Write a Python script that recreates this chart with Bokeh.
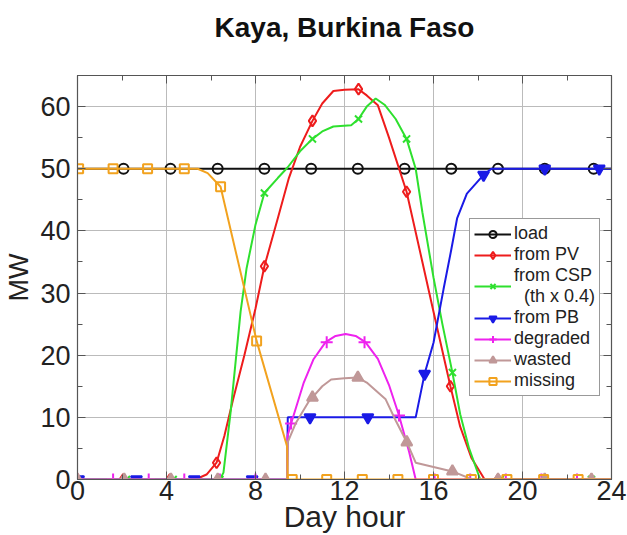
from bokeh.plotting import figure
from bokeh.models import Range1d, FixedTicker, LinearAxis, Legend, LegendItem
from bokeh.embed import file_html
from bokeh.resources import INLINE

# ---------------- data ----------------
title_text = "Kaya, Burkina Faso"
x_label = "Day hour"
y_label = "MW"
x_ticks = [0, 4, 8, 12, 16, 20, 24]
x_minor = [2, 6, 10, 14, 18, 22]
y_ticks = [0, 10, 20, 30, 40, 50, 60]
y_minor = [5, 15, 25, 35, 45, 55, 65]

load_h = [0, 24]
load_v = [50, 50]
load_mh = [2.07, 4.18, 6.3, 8.4, 10.5, 12.6, 14.7, 16.8, 18.9, 21.0, 23.2]
load_mv = [50, 50, 50, 50, 50, 50, 50, 50, 50, 50, 50]

pv_h = [0, 5.3, 5.8, 6.25, 6.6, 7.0, 7.5, 8.0, 8.4, 9.0, 9.5, 10.0, 10.56, 11.0,
        11.5, 12.0, 12.63, 13.0, 13.5, 14.0, 14.79, 15.5, 16.0, 16.76, 17.2,
        17.7, 18.3, 24]
pv_v = [0, 0, 0.8, 2.7, 7, 13, 20, 27.5, 34.3, 42, 48.5, 53.5, 57.7, 60.5,
        62.5, 62.7, 62.8, 61.8, 60.2, 55, 46.3, 35, 27, 15, 8.5,
        3.5, 0, 0]
pv_mh = [0.0, 2.05, 4.15, 6.25, 8.4, 10.56, 12.63, 14.79, 16.76, 18.9, 21.0, 23.1]
pv_mv = [0, 0, 0, 2.7, 34.3, 57.7, 62.8, 46.3, 15, 0, 0, 0]

csp_h = [0, 6.4, 6.56, 6.88, 7.33, 7.6, 8.0, 8.4, 9.0, 9.44, 10.0, 10.56, 11.0,
         11.5, 12.3, 12.63, 13.0, 13.4, 13.8, 14.3, 14.79, 15.2, 15.5, 16.0,
         16.4, 16.85, 17.2, 17.6, 18.1, 24]
csp_v = [0, 0, 1.1, 10.8, 27, 34, 41, 46.1, 48.5, 50.2, 52.8, 54.8, 56,
         56.8, 57, 58, 60, 61.3, 60.3, 58.0, 54.8, 50, 43, 32.5,
         25, 17.2, 10.5, 5, 0, 0]
csp_mh = [0.1, 2.2, 4.3, 6.4, 8.4, 10.56, 12.63, 14.79, 16.85, 19.0, 21.0, 23.1]
csp_mv = [0, 0, 0, 0, 46.1, 54.8, 58, 54.8, 17.2, 0, 0, 0]

pb_h = [0, 9.42, 9.45, 15.2, 15.6, 16.0, 16.45, 16.8, 17.06, 17.5, 18.25, 18.6, 24]
pb_v = [0, 0, 10, 10, 17, 22, 30.6, 37, 42, 46, 49, 50, 50]
pb_mh = [0.05, 2.65, 5.25, 7.85, 10.45, 13.05, 15.6, 18.25, 21.0, 23.45]
pb_mv = [0, 0, 0, 0, 10, 10, 17, 49, 50, 50]

deg_h = [0, 9.42, 9.44, 9.6, 10.17, 10.6, 11.15, 11.6, 12.05, 12.5, 12.94, 13.5,
         14.0, 14.45, 14.9, 15.2, 24]
deg_v = [0, 0, 7, 9, 15.6, 19.3, 22.1, 23.1, 23.4, 23.1, 22.1, 19.4,
         15.2, 10.3, 4.5, 0, 0]
deg_mh = [0, 1.6, 3.2, 4.8, 6.4, 8.0, 9.6, 11.2, 12.9, 14.45, 16.05, 17.65,
          19.25, 20.85, 22.45]
deg_mv = [0, 0, 0, 0, 0, 0, 9, 22.1, 22.1, 10.3, 0, 0, 0, 0, 0]

was_h = [0, 9.42, 9.45, 9.8, 10.4, 10.56, 11.0, 11.4, 12.0, 12.6, 13.0, 13.85,
         14.3, 14.8, 15.2, 16.85, 17.75, 24]
was_v = [0, 0, 6, 9, 12.6, 13.2, 15, 16.1, 16.3, 16.4, 15.6, 12.9,
         9.5, 6, 2.7, 1.3, 0, 0]
was_mh = [0.0, 2.1, 4.2, 6.3, 8.45, 10.56, 12.6, 14.8, 16.85, 18.9, 21.0, 23.1]
was_mv = [0, 0, 0, 0, 0, 13.2, 16.4, 6, 1.3, 0, 0, 0]

mis_h = [0, 5.4, 5.85, 6.43, 8.05, 9.42, 9.45, 24]
mis_v = [50, 50, 49.3, 47.1, 22.3, 5.3, 0, 0]
mis_mh = [0.05, 1.6, 3.15, 4.8, 6.43, 8.05, 9.65, 11.2, 12.8, 14.4, 16.0, 17.7,
          19.3, 20.95, 22.5]
mis_mv = [50, 50, 50, 50, 47.1, 22.3, 0, 0, 0, 0, 0, 0, 0, 0, 0]

labels = ["load", "from PV", "from CSP\n\u00a0\u00a0(th x 0.4)", "from PB",
          "degraded", "wasted", "missing"]

# ---------------- styling ----------------
FONT = "Liberation Sans"
series = [
    (load_h, load_v, load_mh, load_mv, "#111111", "circle", 10, False),
    (pv_h, pv_v, pv_mh, pv_mv, "#ee1c1c", "diamond", 11, False),
    (csp_h, csp_v, csp_mh, csp_mv, "#2ee02e", "x", 10, False),
    (pb_h, pb_v, pb_mh, pb_mv, "#1a1ae6", "inverted_triangle", 11, True),
    (deg_h, deg_v, deg_mh, deg_mv, "#ee22ee", "cross", 12, False),
    (was_h, was_v, was_mh, was_mv, "#c09898", "triangle", 11, True),
    (mis_h, mis_v, mis_mh, mis_mv, "#f2a21e", "square", 9, False),
]

p = figure(width=627, height=535, output_backend="svg", toolbar_location=None,
           x_range=Range1d(0, 24), y_range=Range1d(0, 65),
           min_border_left=77, min_border_right=16, min_border_top=75,
           min_border_bottom=55)
p.background_fill_color = "white"
p.border_fill_color = "white"
p.outline_line_color = "#555555"
p.outline_line_width = 1.2

# trailing newline keeps the title well above the frame, as in the reference
p.title.text = title_text + "\n"
p.title.align = "center"
p.title.text_font = FONT
p.title.text_font_size = "28px"
p.title.text_font_style = "bold"
p.title.text_color = "#111111"
p.title.standoff = 4

for ax in [p.xaxis[0], p.yaxis[0]]:
    ax.axis_line_color = "#555555"
    ax.major_tick_in = 8
    ax.major_tick_out = 0
    ax.minor_tick_in = 5
    ax.minor_tick_out = 0
    ax.major_tick_line_color = "#555555"
    ax.minor_tick_line_color = "#555555"
    ax.major_label_text_font = FONT
    ax.major_label_text_font_size = "27px"
    ax.major_label_text_color = "#222222"
    ax.axis_label_text_font = FONT
    ax.axis_label_text_font_style = "normal"
    ax.axis_label_text_color = "#222222"

p.xaxis[0].ticker = FixedTicker(ticks=x_ticks, minor_ticks=x_minor)
p.yaxis[0].ticker = FixedTicker(ticks=y_ticks, minor_ticks=y_minor)
p.xaxis[0].axis_label = x_label
p.yaxis[0].axis_label = y_label
p.xaxis[0].axis_label_text_font_size = "30px"
p.yaxis[0].axis_label_text_font_size = "27px"
p.xaxis[0].major_label_standoff = 1
p.xaxis[0].axis_label_standoff = -3
p.yaxis[0].major_label_standoff = 7
p.yaxis[0].axis_label_standoff = 3

# mirrored axes (ticks only, no labels)
for side, tk, tl in [("above", FixedTicker(ticks=x_ticks, minor_ticks=x_minor), x_ticks),
                     ("right", FixedTicker(ticks=y_ticks, minor_ticks=y_minor), y_ticks)]:
    a = LinearAxis(ticker=tk)
    a.major_label_overrides = {t: "" for t in tl}
    a.major_label_text_font_size = "1px"
    a.major_label_standoff = 0
    a.axis_line_color = "#555555"
    a.major_tick_in = 8
    a.major_tick_out = 0
    a.minor_tick_in = 5
    a.minor_tick_out = 0
    a.major_tick_line_color = "#555555"
    a.minor_tick_line_color = "#555555"
    p.add_layout(a, side)

p.xgrid.ticker = FixedTicker(ticks=x_ticks)
p.ygrid.ticker = FixedTicker(ticks=y_ticks)
p.xgrid.grid_line_color = "#bbbbbb"
p.ygrid.grid_line_color = "#bbbbbb"
p.xgrid.grid_line_width = 1
p.ygrid.grid_line_width = 1

items = []
for (h, v, mh, mv, col, mk, sz, filled), lab in zip(series, labels):
    lr = p.line(h, v, line_color=col, line_width=2)
    sr = p.scatter(mh, mv, marker=mk, size=sz, line_color=col, line_width=2,
                   fill_color=col if filled else None)
    items.append(LegendItem(label=lab, renderers=[lr, sr]))

legend = Legend(items=items, location=(392, 83))
legend.label_text_font = FONT
legend.label_text_font_size = "18px"
legend.label_text_color = "#222222"
legend.label_height = 18
legend.glyph_height = 18
legend.glyph_width = 37
legend.label_standoff = 3
legend.spacing = 0
legend.padding = 4
legend.margin = 0
legend.border_line_color = "#333333"
legend.border_line_width = 1.2
legend.background_fill_alpha = 1
p.add_layout(legend)

open("out.html", "w").write(file_html(p, INLINE))
